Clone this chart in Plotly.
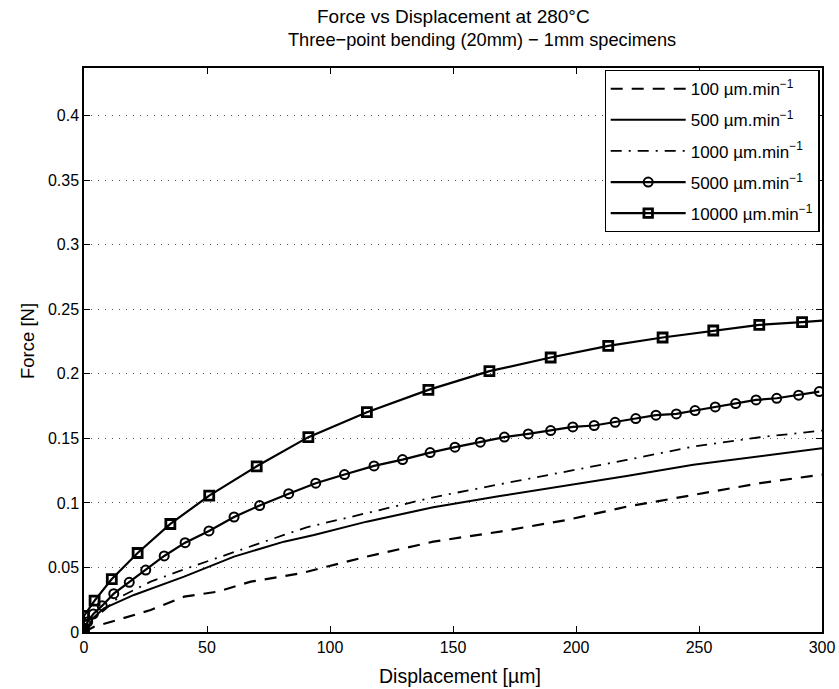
import plotly.graph_objects as go

# ---- data ----
x100 = [0, 4.1, 13.6, 27.1, 40.7, 54.2, 67.8, 88.1, 114.9, 142, 169.1, 196.2, 220.6, 247.7, 274.8, 300]
y100 = [0, 0.0041, 0.0093, 0.0171, 0.0274, 0.0312, 0.039, 0.0455, 0.0584, 0.070, 0.0778, 0.0868, 0.0971, 0.1062, 0.1153, 0.1220]

x500 = [0, 3.8, 8.1, 20.3, 40.7, 61, 81.3, 93.5, 114.9, 142, 169.1, 193.5, 220.6, 247.7, 274.8, 300]
y500 = [0, 0.011, 0.0184, 0.0287, 0.0429, 0.0584, 0.070, 0.0752, 0.0855, 0.0967, 0.1054, 0.1126, 0.1209, 0.1295, 0.136, 0.1424]

x1000 = [0, 4.0, 13.6, 27.1, 40.7, 61, 81.3, 90.8, 114.9, 142, 169.1, 196.2, 220.6, 247.7, 274.8, 300]
y1000 = [0, 0.010, 0.0261, 0.039, 0.0486, 0.0622, 0.0752, 0.0812, 0.092, 0.1044, 0.1145, 0.1243, 0.1333, 0.1437, 0.1509, 0.1561]

x5000 = [0.1, 1.5, 3.8, 7.4, 12.1, 18.4, 25.1, 32.6, 41.1, 50.8, 61, 71.4, 83.2, 94.2, 105.9, 117.9,
         129.5, 140.7, 150.8, 161.1, 170.9, 180.6, 189.7, 198.7, 207.4, 215.9, 224.3, 232.5, 240.8,
         248.4, 256.6, 264.9, 273.2, 281.6, 290.5, 298.9]
y5000 = [0.0029, 0.0078, 0.014, 0.0204, 0.0297, 0.0385, 0.048, 0.0589, 0.0692, 0.0783, 0.0891, 0.098,
         0.1072, 0.1153, 0.1220, 0.1287, 0.1336, 0.139, 0.1432, 0.1471, 0.151, 0.1535, 0.1561, 0.1589,
         0.160, 0.1625, 0.1654, 0.168, 0.169, 0.1716, 0.1744, 0.177, 0.1798, 0.1811, 0.1835, 0.1863]

x10000 = [0, 0, 4.3, 11.3, 21.8, 35.1, 50.9, 70.2, 91.2, 115, 140, 164.8, 189.7, 213.1, 235.2,
          255.8, 274.5, 291.9, 300]
y10000 = [0, 0.0125, 0.0243, 0.041, 0.0612, 0.0837, 0.1057, 0.1284, 0.151, 0.1703, 0.1876, 0.2021,
          0.2127, 0.2217, 0.2282, 0.2336, 0.238, 0.2401, 0.2413]

labels = ["100 µm.min<sup>−1</sup>", "500 µm.min<sup>−1</sup>", "1000 µm.min<sup>−1</sup>",
          "5000 µm.min<sup>−1</sup>", "10000 µm.min<sup>−1</sup>"]

yticks = [0, 0.05, 0.1, 0.15, 0.2, 0.25, 0.3, 0.35, 0.4]
xticks = [0, 50, 100, 150, 200, 250, 300]

FONT = "Liberation Sans, Arial, sans-serif"

fig = go.Figure()
fig.add_trace(go.Scatter(x=x100, y=y100, mode="lines", name=labels[0], legendgroup="a",
                         line=dict(color="black", width=2.2, dash="12px,9px")))
fig.add_trace(go.Scatter(x=x500, y=y500, mode="lines", name=labels[1], legendgroup="b",
                         line=dict(color="black", width=2)))
fig.add_trace(go.Scatter(x=x1000, y=y1000, mode="lines", name=labels[2], legendgroup="c",
                         line=dict(color="black", width=1.8, dash="11px,7px,2px,7px")))
fig.add_trace(go.Scatter(x=x5000, y=y5000, mode="lines+markers", name=labels[3], legendgroup="d",
                         line=dict(color="black", width=2.2),
                         marker=dict(symbol="circle-open", size=9, color="black", opacity=1,
                                     line=dict(width=2, color="black"))))
msize = [9] * (len(x10000) - 1) + [0]
fig.add_trace(go.Scatter(x=x10000, y=y10000, mode="lines+markers", name=labels[4], legendgroup="e",
                         line=dict(color="black", width=2.2),
                         marker=dict(symbol="square-open", size=msize, color="black", opacity=1,
                                     line=dict(width=2.8, color="black"))))

L, R, T, B = 84, 17, 68, 57
W, H = 839, 689
pw, ph = W - L - R, H - T - B

fig.update_layout(
    width=W, height=H,
    margin=dict(l=L, r=R, t=T, b=B, autoexpand=False),
    paper_bgcolor="white", plot_bgcolor="white",
    font=dict(family=FONT, size=15, color="black"),
    showlegend=True,
    legend=dict(x=(819.5 - L) / pw, y=(H - B - 70) / ph, xanchor="right", yanchor="top",
                bgcolor="white", bordercolor="black", borderwidth=1.2,
                font=dict(family=FONT, size=17, color="black"),
                itemwidth=75, tracegroupgap=6, traceorder="grouped"),
    annotations=[
        dict(text="Force vs Displacement at 280°C", xref="paper", yref="paper",
             x=0.5, y=1 + (T - 17) / ph, xanchor="center", yanchor="middle",
             showarrow=False, font=dict(family=FONT, size=19, color="black")),
        dict(text="Three−point bending (20mm) − 1mm specimens", xref="paper", yref="paper",
             x=(482 - L) / pw, y=1 + (T - 40) / ph, xanchor="center", yanchor="middle",
             showarrow=False, font=dict(family=FONT, size=18.2, color="black")),
        dict(text="Displacement [µm]", xref="paper", yref="paper",
             x=(460 - L) / pw, y=-(676 - (H - B)) / ph, xanchor="center", yanchor="middle",
             showarrow=False, font=dict(family=FONT, size=19.5, color="black")),
        dict(text="Force [N]", xref="paper", yref="paper", textangle=-90,
             x=-(L - 27) / pw, y=(H - B - 341) / ph, xanchor="center", yanchor="middle",
             showarrow=False, font=dict(family=FONT, size=18.5, color="black")),
    ],
)

fig.update_xaxes(range=[0, 300], tickvals=xticks, ticks="inside", ticklen=6, tickwidth=1,
                 tickcolor="black", showline=True, linecolor="black", linewidth=1.5,
                 mirror="ticks", showgrid=False, zeroline=False,
                 tickfont=dict(family=FONT, size=16, color="black"))
fig.update_yaxes(range=[0, 0.437], tickvals=yticks, ticks="inside", ticklen=6, tickwidth=1,
                 tickcolor="black", showline=True, linecolor="black", linewidth=1.5,
                 mirror="ticks", showgrid=True, gridcolor="#555555", griddash="1px,6px",
                 gridwidth=1, zeroline=False,
                 tickfont=dict(family=FONT, size=16, color="black"))

fig.write_html("out.html", config={"displayModeBar": False},
               post_script="document.body.style.margin='0';document.body.style.overflow='hidden';")
